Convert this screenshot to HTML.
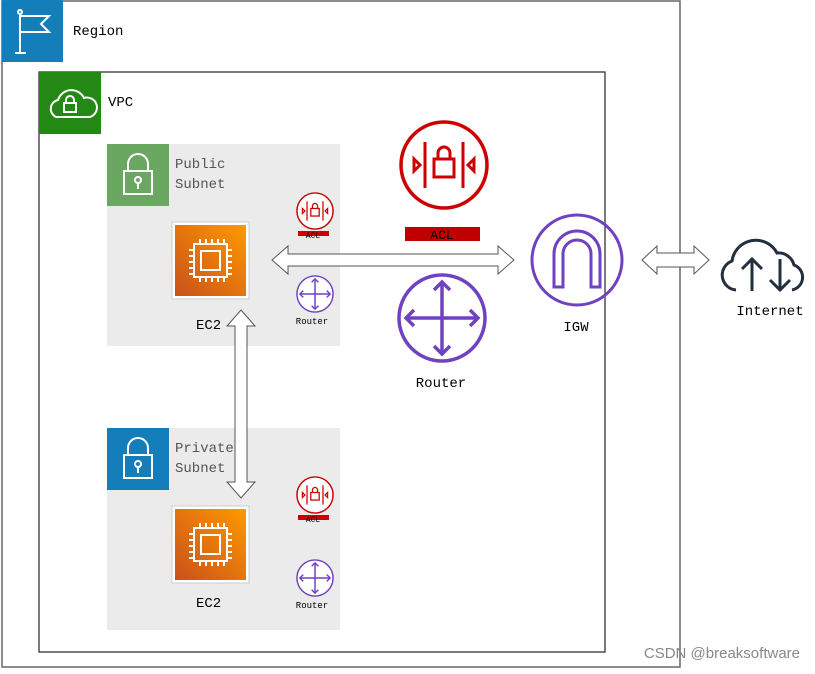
<!DOCTYPE html>
<html><head><meta charset="utf-8"><style>
body{margin:0;background:#fff}
svg text{font-family:"Liberation Mono","DejaVu Sans Mono",monospace}
</style></head><body>
<svg width="815" height="669" viewBox="0 0 815 669" xmlns="http://www.w3.org/2000/svg">
<rect x="2" y="1" width="678" height="666" fill="#fff" stroke="#666" stroke-width="1.5"/>
<rect x="2" y="0" width="61" height="62" fill="#147eba"/>
<g stroke="#fff" stroke-width="2" fill="none"><line x1="20" y1="14" x2="20" y2="53"/><line x1="15" y1="53" x2="26" y2="53"/><circle cx="20" cy="12" r="2"/><path d="M20 16 H49 L41 24 L49 32 H20"/></g>
<text x="73" y="35" font-size="14">Region</text>

<rect x="39" y="72" width="566" height="580" fill="#fff" stroke="#222" stroke-width="1.2"/>
<rect x="39" y="72" width="62" height="62" fill="#248814"/>
<path d="M56 117 a9 9 0 0 1 2 -17 a14 14 0 0 1 26 -2 a9 9 0 0 1 6 19 z" fill="none" stroke="#fff" stroke-width="2"/>
<rect x="64" y="103" width="12" height="9" fill="none" stroke="#fff" stroke-width="2"/><path d="M66 103 v-3 a4 4 0 0 1 8 0 v3" fill="none" stroke="#fff" stroke-width="2"/>
<text x="108" y="106" font-size="14">VPC</text>

<rect x="107" y="144" width="233" height="202" fill="#ebebeb"/>
<rect x="107" y="144" width="62" height="62" fill="#6aa760"/>
<g stroke="#fff" stroke-width="2" fill="none"><rect x="124" y="171" width="28" height="23"/><path d="M128 171 v-7 a10 10 0 0 1 20 0 v7"/><circle cx="138" cy="180" r="3"/><line x1="138" y1="183" x2="138" y2="189"/></g>
<text x="175" y="168" font-size="14" fill="#555">Public</text><text x="175" y="188" font-size="14" fill="#555">Subnet</text>

<rect x="107" y="428" width="233" height="202" fill="#ebebeb"/>
<rect x="107" y="428" width="62" height="62" fill="#147eba"/>
<g stroke="#fff" stroke-width="2" fill="none"><rect x="124" y="455" width="28" height="23"/><path d="M128 455 v-7 a10 10 0 0 1 20 0 v7"/><circle cx="138" cy="464" r="3"/><line x1="138" y1="467" x2="138" y2="473"/></g>
<text x="175" y="452" font-size="14" fill="#555">Private</text><text x="175" y="472" font-size="14" fill="#555">Subnet</text>

<defs>
<linearGradient id="og" x1="0" y1="1" x2="1" y2="0"><stop offset="0" stop-color="#c8511b"/><stop offset="1" stop-color="#ff9900"/></linearGradient>
<g id="ec2"><rect x="0" y="0" width="77" height="77" fill="#fff" stroke="#ccc"/><rect x="3" y="3" width="71" height="71" fill="url(#og)"/>
<g stroke="#fff" stroke-width="2" fill="none"><rect x="22" y="22" width="33" height="33"/><rect x="29" y="29" width="19" height="19"/>
<path d="M28 22v-5M34 22v-5M40 22v-5M46 22v-5M52 22v-5M28 55v5M34 55v5M40 55v5M46 55v5M52 55v5M22 28h-5M22 34h-5M22 40h-5M22 46h-5M22 52h-5M55 28h5M55 34h5M55 40h5M55 46h5M55 52h5"/></g></g>
<g id="acl"><circle cx="0" cy="0" r="43" fill="#fff" stroke="#c00" stroke-width="3.5"/>
<g stroke="#c00" stroke-width="3" fill="none"><line x1="-19" y1="-23" x2="-19" y2="23"/><line x1="19" y1="-23" x2="19" y2="23"/><rect x="-10" y="-6" width="20" height="18"/><path d="M-6 -6v-6a6 6 0 0 1 12 0v6"/><path d="M-30 -6 L-24 0 L-30 6Z"/><path d="M30 -6 L24 0 L30 6Z"/></g></g>
<g id="rt"><circle cx="0" cy="0" r="43" fill="#fff" stroke="#6f42c1" stroke-width="3.5"/>
<g stroke="#6f42c1" stroke-width="3.5" fill="none"><line x1="-36" y1="0" x2="36" y2="0"/><line x1="0" y1="-36" x2="0" y2="36"/><path d="M-28 -8L-36 0L-28 8M28 -8L36 0L28 8M-8 -28L0 -36L8 -28M-8 28L0 36L8 28"/></g></g>
</defs>

<use href="#ec2" x="172" y="222"/><text x="196" y="329" font-size="14">EC2</text>
<use href="#ec2" x="172" y="506"/><text x="196" y="607" font-size="14">EC2</text>

<g transform="translate(315,211) scale(0.42)"><use href="#acl"/></g>
<rect x="298" y="231" width="31" height="5" fill="#c00"/><text x="313" y="238" font-size="8" text-anchor="middle">ACL</text>
<g transform="translate(315,294) scale(0.42)"><use href="#rt"/></g>
<text x="312" y="324" font-size="9" text-anchor="middle">Router</text>
<g transform="translate(315,495) scale(0.42)"><use href="#acl"/></g>
<rect x="298" y="515" width="31" height="5" fill="#c00"/><text x="313" y="522" font-size="8" text-anchor="middle">ACL</text>
<g transform="translate(315,578) scale(0.42)"><use href="#rt"/></g>
<text x="312" y="608" font-size="9" text-anchor="middle">Router</text>

<use href="#acl" x="444" y="165"/>
<rect x="405" y="227" width="75" height="14" fill="#c00000"/><text x="442" y="239" font-size="13" text-anchor="middle">ACL</text>
<use href="#rt" x="442" y="318"/>
<text x="441" y="387" font-size="14" text-anchor="middle">Router</text>

<path d="M272 260 L288 246 V254 H498 V246 L514 260 L498 274 V266 H288 V274 Z" fill="#fff" stroke="#555"/>
<path d="M241 310 L255 326 H247 V482 H255 L241 498 L227 482 H235 V326 H227 Z" fill="#fff" stroke="#555"/>
<path d="M642 260 L657 246 V253 H694 V246 L709 260 L694 274 V267 H657 V274 Z" fill="#fff" stroke="#555"/>

<circle cx="577" cy="260" r="45" fill="none" stroke="#6f42c1" stroke-width="3"/>
<path d="M554 287 V254 a23 23 0 0 1 46 0 V287 H591 V254 a14 14 0 0 0 -28 0 V287 Z" fill="none" stroke="#6f42c1" stroke-width="3"/>
<text x="576" y="331" font-size="14" text-anchor="middle">IGW</text>

<path d="M736 290 a15 15 0 0 1 -4 -29 a24 24 0 0 1 45 -8 a16 16 0 0 1 17 12 a13 13 0 0 1 -2 25" fill="none" stroke="#232f3e" stroke-width="3"/>
<g stroke="#232f3e" stroke-width="3" fill="none"><line x1="752" y1="259" x2="752" y2="291"/><path d="M742 269L752 259L762 269"/><line x1="780" y1="259" x2="780" y2="290"/><path d="M770 280L780 290L790 280"/></g>
<text x="770" y="315" font-size="14" text-anchor="middle">Internet</text>

<text x="800" y="658" font-size="15" fill="#888" text-anchor="end" style="font-family:'Liberation Sans',sans-serif">CSDN @breaksoftware</text>
</svg>
</body></html>
